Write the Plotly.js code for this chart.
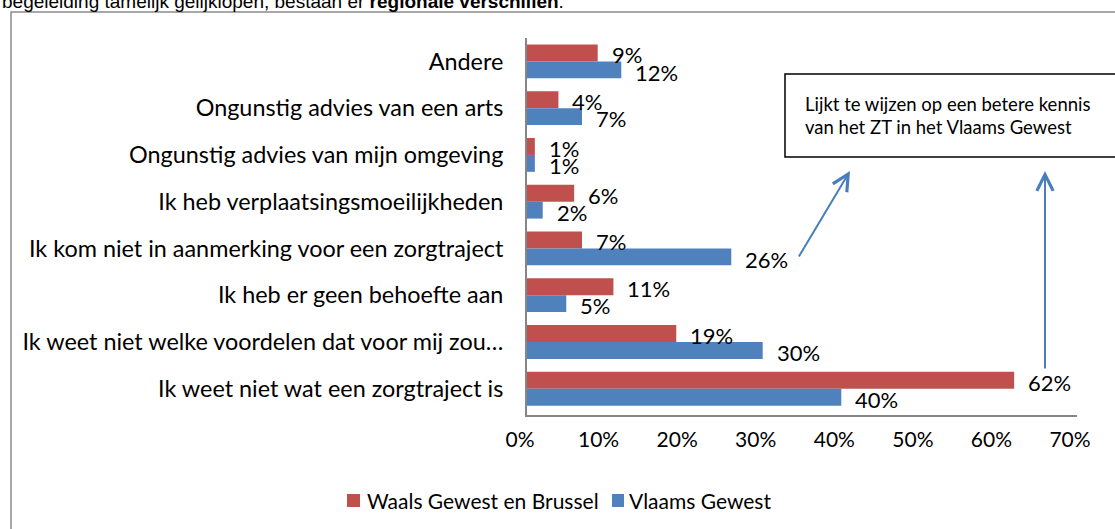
<!DOCTYPE html>
<html>
<head>
<meta charset="utf-8">
<script src="https://cdn.plot.ly/plotly-3.0.1.min.js"></script>
<style>html,body{margin:0;padding:0;background:#fff;}#chart{width:1115px;height:529px;}</style>
</head>
<body>
<div id="chart"></div>
<script>
const categories = [
  "Andere",
  "Ongunstig advies van een arts",
  "Ongunstig advies van mijn omgeving",
  "Ik heb verplaatsingsmoeilijkheden",
  "Ik kom niet in aanmerking voor een zorgtraject",
  "Ik heb er geen behoefte aan",
  "Ik weet niet welke voordelen dat voor mij zou…",
  "Ik weet niet wat een zorgtraject is"
];
const waals = [9, 4, 1, 6, 7, 11, 19, 62];
const vlaams = [12, 7, 1, 2, 26, 5, 30, 40];
const seriesNames = ["Waals Gewest en Brussel", "Vlaams Gewest"];
const xTicks = [0, 10, 20, 30, 40, 50, 60, 70];
const calloutLines = ["Lijkt te wijzen op een betere kennis", "van het ZT in het Vlaams Gewest"];
const introText = "begeleiding tamelijk gelijklopen, bestaan er <b>regionale verschillen</b>.";

const RED = "#C0504D", BLUE = "#4F81BD", ARROW = "#4A7EBB";
const FONT = "Lato, Carlito, Calibri, sans-serif";

// plot area in pixels
const L = 527, R = 1077, T = 38, B = 415, W = 1115, H = 529;
const px = x => (x - L) / (R - L);
const py = y => (B - y) / (B - T);

const colors = [RED, BLUE];
const traces = [waals, vlaams].map((vals, k) => ({
  type: "bar", orientation: "h", name: seriesNames[k], y: categories, x: vals,
  marker: {color: colors[k]}, hoverinfo: "none", showlegend: false
}));

const annotations = [];
const labelFont = {family: FONT, size: 22, color: "#000"};
waals.forEach((v, i) => annotations.push({x: v, y: i - 0.14, xref: "x", yref: "y", text: v + "%",
  showarrow: false, xanchor: "left", yanchor: "middle", xshift: 12, font: labelFont}));
vlaams.forEach((v, i) => annotations.push({x: v, y: i + 0.23, xref: "x", yref: "y", text: v + "%",
  showarrow: false, xanchor: "left", yanchor: "middle", xshift: 12, font: labelFont}));

// callout text
calloutLines.forEach((t, k) => annotations.push({x: px(803), y: py(104 + 23 * k), xref: "paper", yref: "paper",
  text: t, showarrow: false, xanchor: "left", yanchor: "middle",
  font: {family: FONT, size: 18.5, color: "#000"}}));

// arrows
annotations.push({x: px(850), y: py(171), xref: "paper", yref: "paper", text: "", showarrow: true,
  ax: -52, ay: 87, arrowhead: 5, arrowsize: 1.6, arrowwidth: 2, arrowcolor: ARROW});
annotations.push({x: px(1045), y: py(171), xref: "paper", yref: "paper", text: "", showarrow: true,
  ax: 0, ay: 199, arrowhead: 5, arrowsize: 1.6, arrowwidth: 2, arrowcolor: ARROW});

// intro text cut at top
annotations.push({x: px(0), y: py(1.5), xref: "paper", yref: "paper", text: introText, showarrow: false,
  xanchor: "left", yanchor: "middle", font: {family: "Liberation Sans, Arial, sans-serif", size: 19, color: "#000"}});

// legend (drawn manually to match spacing)
const legendItems = [
  {name: seriesNames[0], color: RED, sq: [347, 360], tx: 365},
  {name: seriesNames[1], color: BLUE, sq: [612, 624], tx: 627}
];
const shapes = [
  {type: "rect", xref: "paper", yref: "paper", x0: px(11), x1: px(1130), y0: py(540), y1: py(12),
   line: {color: "#8a8a8a", width: 1.5}, fillcolor: "rgba(0,0,0,0)", layer: "below"},
  {type: "rect", xref: "paper", yref: "paper", x0: px(785), x1: px(1130), y0: py(157), y1: py(74),
   line: {color: "#000", width: 1.5}, fillcolor: "#fff"}
];
legendItems.forEach(it => {
  shapes.push({type: "rect", xref: "paper", yref: "paper", x0: px(it.sq[0]), x1: px(it.sq[1]),
    y0: py(507), y1: py(494), line: {width: 0}, fillcolor: it.color});
  annotations.push({x: px(it.tx), y: py(500), xref: "paper", yref: "paper", text: it.name, showarrow: false,
    xanchor: "left", yanchor: "middle", font: {family: FONT, size: 21, color: "#000"}});
});

const layout = {
  width: W, height: H,
  margin: {l: L, r: W - R, t: T, b: H - B, pad: 0},
  paper_bgcolor: "#fff", plot_bgcolor: "#fff",
  barmode: "group", bargap: 0.277, bargroupgap: 0,
  font: {family: FONT, color: "#000"},
  xaxis: {range: [0, 70], tickvals: xTicks, ticktext: xTicks.map(v => v + "%"),
    showgrid: false, zeroline: false, showline: true, linecolor: "#868686", linewidth: 2,
    ticks: "", ticklabelstandoff: 5, ticklabelshift: -7, tickfont: {family: FONT, size: 21, color: "#000"}, fixedrange: true},
  yaxis: {autorange: "reversed", type: "category", showgrid: false, zeroline: false,
    showline: true, linecolor: "#868686", linewidth: 2, ticks: "", ticklabelstandoff: 17,
    tickfont: {family: FONT, size: 23.4, color: "#000"}, fixedrange: true},
  showlegend: false,
  annotations: annotations,
  shapes: shapes
};

Plotly.newPlot("chart", traces, layout, {staticPlot: true, displayModeBar: false});
</script>
</body>
</html>
